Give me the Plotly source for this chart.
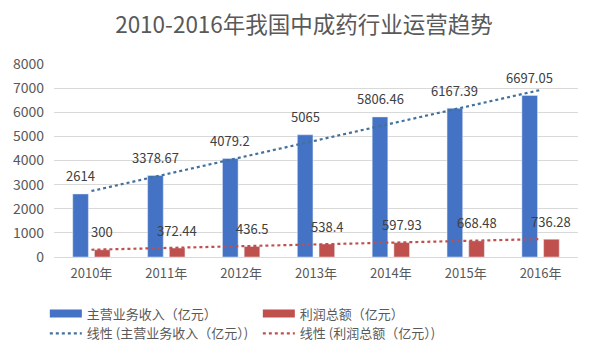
import numpy as np
import plotly.graph_objects as go

years = ["2010年", "2011年", "2012年", "2013年", "2014年", "2015年", "2016年"]
revenue = [2614, 3378.67, 4079.2, 5065, 5806.46, 6167.39, 6697.05]
profit = [300, 372.44, 436.5, 538.4, 597.93, 668.48, 736.28]
revenue_labels = ["2614", "3378.67", "4079.2", "5065", "5806.46", "6167.39", "6697.05"]
profit_labels = ["300", "372.44", "436.5", "538.4", "597.93", "668.48", "736.28"]
y_ticks = [0, 1000, 2000, 3000, 4000, 5000, 6000, 7000, 8000]

BLUE = "#4472C4"
RED = "#C0504D"
TREND_BLUE = "#41719C"
FONT = "Noto Sans CJK SC"

# figure geometry (page body adds an 8px offset, compensated here)
W, H = 592, 350
ML, MR, MT, MB = 46, 22, 56, 101
BARGAP = 0.42
plot_w = W - ML - MR
cat_w = plot_w / len(years)
bar_shift = (1 - BARGAP) * cat_w / 4

idx = np.arange(len(years))
def trend(vals):
    k, b = np.polyfit(idx, vals, 1)
    return list(k * idx + b)

fig = go.Figure()
fig.add_trace(go.Bar(x=years, y=revenue, name="主营业务收入（亿元）", marker_color=BLUE, showlegend=False))
fig.add_trace(go.Bar(x=years, y=profit, name="利润总额（亿元）", marker_color=RED, showlegend=False))
fig.add_trace(go.Scatter(x=years, y=trend(revenue), mode="lines", name="线性 (主营业务收入（亿元）)",
                         legendrank=3, line=dict(color=TREND_BLUE, width=2.2, dash="dot")))
fig.add_trace(go.Scatter(x=years, y=trend(profit), mode="lines", name="线性 (利润总额（亿元）)",
                         legendrank=4, line=dict(color=RED, width=2.2, dash="dot")))
# legend swatches for the bar series (wide rectangles like the original)
fig.add_trace(go.Scatter(x=[None], y=[None], mode="lines", name="主营业务收入（亿元）",
                         legendrank=1, line=dict(color=BLUE, width=8), hoverinfo="skip"))
fig.add_trace(go.Scatter(x=[None], y=[None], mode="lines", name="利润总额（亿元）",
                         legendrank=2, line=dict(color=RED, width=8), hoverinfo="skip"))

annotations = []
for yr, v, t in zip(years, revenue, revenue_labels):
    annotations.append(dict(x=yr, y=v, text=t, showarrow=False, xshift=-bar_shift, yshift=18,
                            yanchor="middle", font=dict(size=13, color="#404040", family=FONT)))
for yr, v, t in zip(years, profit, profit_labels):
    annotations.append(dict(x=yr, y=v, text=t, showarrow=False, xshift=bar_shift, yshift=18,
                            yanchor="middle", font=dict(size=13, color="#404040", family=FONT)))

fig.update_layout(
    width=W, height=H,
    margin=dict(l=ML, r=MR, t=MT, b=MB, autoexpand=False),
    paper_bgcolor="white", plot_bgcolor="white",
    font=dict(family=FONT, color="#595959"),
    title=dict(text="2010-2016年我国中成药行业运营趋势", x=0.5, xanchor="center",
               y=1 - 17 / H, yanchor="middle", font=dict(size=22.5, color="#595959", family=FONT)),
    barmode="group", bargap=BARGAP, bargroupgap=0.28,
    showlegend=True,
    legend=dict(orientation="h", x=-0.0175, xanchor="left", y=-0.215, yanchor="top",
                entrywidth=166, tracegroupgap=0, itemwidth=32,
                font=dict(size=13, color="#595959", family=FONT)),
    xaxis=dict(showgrid=False, showline=True, linecolor="#d9d9d9", ticks="", automargin=False,
               ticklabelstandoff=4,
               tickfont=dict(size=13, color="#595959", family=FONT)),
    yaxis=dict(range=[0, 8000], tickvals=y_ticks, showgrid=True, gridcolor="#d9d9d9",
               zeroline=False, ticks="", ticklabelstandoff=9, automargin=False,
               tickfont=dict(size=14, color="#595959", family=FONT)),
    annotations=annotations,
)

fig.write_html("out.html")
